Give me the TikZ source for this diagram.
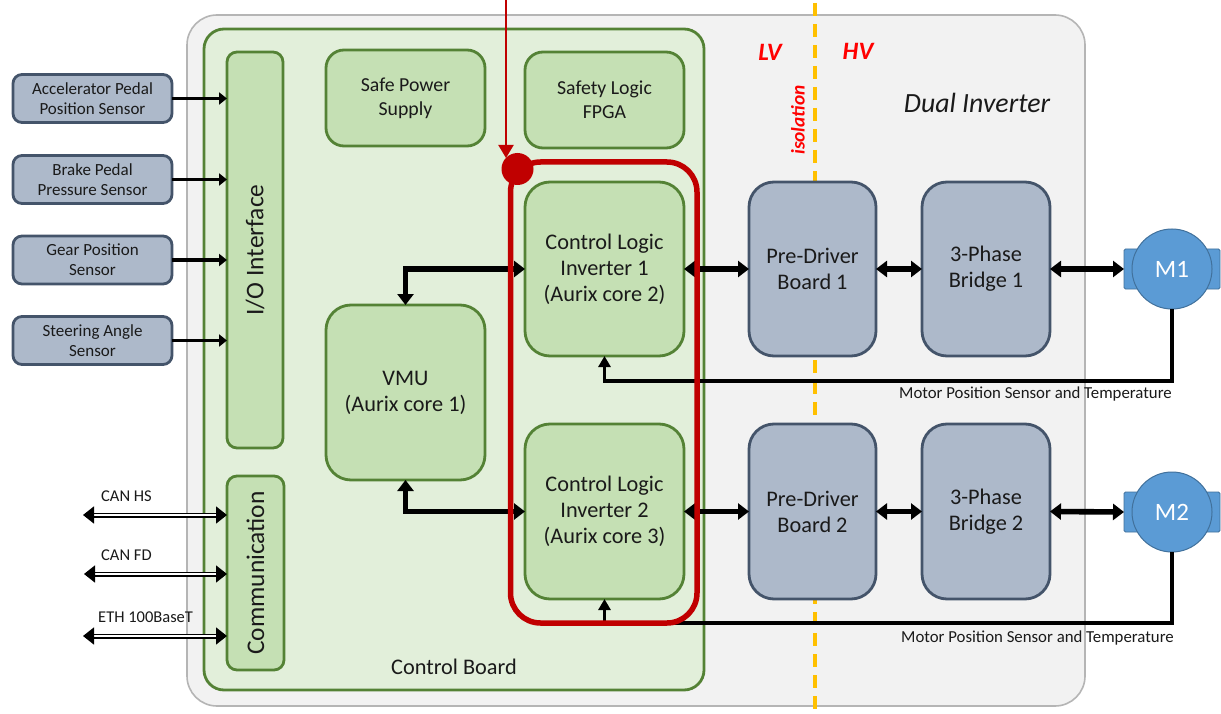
\documentclass[tikz,border=0pt]{standalone}
\usepackage{fontspec}
\setmainfont{Carlito}
\usetikzlibrary{arrows.meta,calc}
\definecolor{outerfill}{HTML}{F2F2F2}
\definecolor{outerline}{HTML}{B5B5B5}
\definecolor{boardfill}{HTML}{E2EFDA}
\definecolor{greenfill}{HTML}{C5E0B4}
\definecolor{greenline}{HTML}{548235}
\definecolor{bluefill}{HTML}{ADB9CA}
\definecolor{blueline}{HTML}{44546A}
\definecolor{motorfill}{HTML}{5B9BD5}
\definecolor{motorline}{HTML}{41719C}
\definecolor{darkred}{HTML}{C00000}
\definecolor{isoline}{HTML}{FFC000}
\definecolor{txt}{HTML}{1A1A1A}
\tikzset{
  big/.style={font=\fontsize{22.3}{26}\selectfont},
  mid/.style={font=\fontsize{19.8}{24}\selectfont},
  small/.style={font=\fontsize{17}{20}\selectfont},
  base/.style={rounded corners=#1,align=center,outer sep=0pt,inner sep=0pt,text=txt,line width=2.8pt},
  gbox/.style={base=#1,draw=greenline,fill=greenfill},
  bbox/.style={base=#1,draw=blueline,fill=bluefill},
  sensor/.style={base=9pt,draw=blueline,fill=bluefill,small,minimum width=159pt,minimum height=48pt},
  thick arrow/.style={line width=5.6pt,black,{Triangle[width=16pt,length=11pt]}-{Triangle[width=16pt,length=11pt]}},
  in arrow/.style={line width=3.8pt,black,-{Triangle[width=12pt,length=8pt]}},
  up arrow/.style={line width=3.8pt,black,-{Triangle[width=12pt,length=11pt]}},
  bus/.style={black,line width=1.6pt,double=white,double distance=1.8pt,{Triangle[width=17pt,length=11pt]}-{Triangle[width=17pt,length=11pt]}},
  redlabel/.style={text=red,font=\fontsize{25}{28}\selectfont\bfseries\itshape},
  note/.style={text=txt,inner sep=0pt},
  buslabel/.style={note,font=\fontsize{16.5}{20}\selectfont,anchor=west},
  motorlabel/.style={note,font=\fontsize{16.8}{20}\selectfont,anchor=east},
  motorbody/.style={rounded corners=1.5pt,draw=motorline,fill=motorfill,line width=.8pt,minimum width=96pt,minimum height=40pt,outer sep=0pt},
  motorhead/.style={circle,draw=motorline,fill=motorfill,line width=1pt,minimum size=80pt,inner sep=0pt,outer sep=0pt,text=white,font=\fontsize{25}{28}\selectfont},
  sidetext/.style={rotate=90,font=\fontsize{25.4}{28}\selectfont,text=txt},
}
\begin{document}
\begin{tikzpicture}[x=1pt,y=-1pt]
\useasboundingbox (0,0) rectangle (1221,714);
\fill[white] (0,0) rectangle (1221,714);
% containers
\node[base=30pt,draw=outerline,fill=outerfill,line width=1.6pt,minimum width=898pt,minimum height=691pt] (outer) at (636,360.5) {};
\node[base=20pt,draw=greenline,fill=boardfill,minimum width=500pt,minimum height=661pt] (board) at (454,359.5) {};
% isolation
\coordinate (isotop) at (815,3);
\coordinate (isobot) at (815,714);
\draw[isoline,line width=3.8pt,dash pattern=on 13pt off 8pt] (isotop) -- (isobot);
% blocks
\node[gbox=10pt,minimum width=56pt,minimum height=396pt] (io) at (255,250) {};
\node[sidetext] (iot) at (io.center) {I/O Interface};
\node[gbox=10pt,minimum width=57pt,minimum height=194pt] (comm) at (255.5,573) {};
\node[sidetext] (commt) at (comm.center) {Communication};
\node[gbox=18pt,mid,minimum width=159pt,minimum height=96pt] (psu) at (405.5,98) {Safe Power\\Supply};
\node[gbox=18pt,mid,minimum width=159pt,minimum height=96pt] (fpga) at (604.5,100) {Safety Logic\\FPGA};
\node[gbox=25pt,big,minimum width=159pt,minimum height=175pt] (vmu) at (405.5,392.5) {VMU\\(Aurix core 1)};
\node[gbox=25pt,big,minimum width=159pt,minimum height=174pt] (cl1) at (604.5,269) {Control Logic\\Inverter 1\\(Aurix core 2)};
\node[gbox=25pt,big,minimum width=159pt,minimum height=175pt] (cl2) at (604.5,511.5) {Control Logic\\Inverter 2\\(Aurix core 3)};
\node[bbox=25pt,big,minimum width=127pt,minimum height=174pt] (pd1) at (812.5,269) {Pre-Driver\\Board 1};
\node[bbox=25pt,big,minimum width=127pt,minimum height=175pt] (pd2) at (812.5,511.5) {Pre-Driver\\Board 2};
\node[bbox=25pt,big,minimum width=128pt,minimum height=174pt] (br1) at (986,269) {3-Phase\\Bridge 1};
\node[bbox=25pt,big,minimum width=128pt,minimum height=175pt] (br2) at (986,511.5) {3-Phase\\Bridge 2};
% sensors
\node[sensor] (s1) at (92.5,98.5) {Accelerator Pedal\\Position Sensor};
\node[sensor] (s2) at (92.5,179.5) {Brake Pedal\\Pressure Sensor};
\node[sensor] (s3) at (92.5,260) {Gear Position\\Sensor};
\node[sensor] (s4) at (92.5,340.5) {Steering Angle\\Sensor};
% motors
\node[motorbody] (m1b) at (1172,269) {};
\node[motorhead] (m1) at (1172,269) {M1};
\node[motorbody] (m2b) at (1172,512) {};
\node[motorhead] (m2) at (1172,512) {M2};
% sensor arrows
\foreach \s in {s1,s2,s3,s4} \draw[in arrow] (\s.east) -- (\s.east -| io.west);
% main connectors
\draw[thick arrow] (vmu.north) |- (cl1.west);
\draw[thick arrow] (vmu.south) |- (cl2.west);
\draw[thick arrow] (cl1.east) -- (pd1.west);
\draw[thick arrow] (cl2.east) -- (pd2.west);
\draw[thick arrow] (pd1.east) -- (br1.west);
\draw[thick arrow] (pd2.east) -- (br2.west);
\draw[thick arrow] (br1.east) -- (m1b.west);
\draw[thick arrow] (br2.east) -- (m2b.west);
% feedback
\coordinate (fb1) at (1172,381);
\coordinate (fb2) at (1172,623);
\draw[up arrow] (m1.south) -- (fb1) -| (cl1.south);
\draw[up arrow] (m2.south) -- (fb2) -| (cl2.south);
% buses
\coordinate (b1) at (83,515);
\coordinate (b2) at (84,574);
\coordinate (b3) at (83,636);
\draw[bus] (b1) -- (b1 -| comm.west);
\draw[bus] (b2) -- (b2 -| comm.west);
\draw[bus] (b3) -- (b3 -| comm.west);
% safety loop
\node[draw=darkred,line width=5.5pt,rounded corners=30pt,minimum width=186.5pt,minimum height=461pt,inner sep=0pt,outer sep=0pt] (loop) at (603.75,392.5) {};
\node[circle,fill=darkred,minimum size=32pt,inner sep=0pt,outer sep=0pt] (dot) at (517.5,169) {};
\coordinate (redtop) at (506,0);
\coordinate (redtip) at (506,158);
\draw[darkred,line width=2pt,-{Triangle[width=15pt,length=13pt]}] (redtop) -- (redtip);
% labels
\node[buslabel] (lb1) at (101,496) {CAN HS};
\node[buslabel] (lb2) at (101,555) {CAN FD};
\node[buslabel] (lb3) at (98,617) {ETH 100BaseT};
\node[motorlabel] (mt1) at (1172,394.5) {Motor Position Sensor and Temperature};
\node[motorlabel] (mt2) at (1174,638.5) {Motor Position Sensor and Temperature};
\node[font=\fontsize{22.3}{26}\selectfont,text=txt] (cb) at (454,667) {Control Board};
\node[redlabel] (lv) at (770,52) {LV};
\node[redlabel] (hv) at (858,51) {HV};
\node[rotate=90,text=red,font=\fontsize{19.3}{22}\selectfont\bfseries\itshape] (iso) at (798,120) {isolation};
\node[font=\fontsize{27.8}{32}\selectfont\itshape,text=txt] (di) at (977,103) {Dual Inverter};
\end{tikzpicture}
\end{document}
